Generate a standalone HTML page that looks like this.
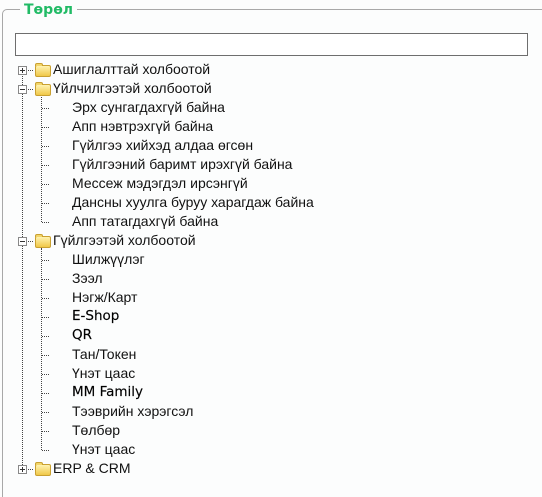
<!DOCTYPE html>
<html><head><meta charset="utf-8"><style>
html,body{margin:0;width:542px;height:497px;overflow:hidden}
body{background:#fcfdfd;position:relative;font-family:"Liberation Sans",Tahoma,sans-serif;font-size:14px;color:#111}
.wrap{position:absolute;left:0;top:0;width:542px;height:497px;overflow:hidden}
.fs{position:absolute;left:2px;top:9px;width:560px;height:500px;border:1px solid #a8a8a8;border-radius:5px}
.lg{position:absolute;left:20px;top:1px;padding:0 4px;background:#fcfdfd;color:#22bb66;font-weight:bold;font-size:14px;line-height:18px;font-family:"DejaVu Sans",sans-serif}
.inp{position:absolute;left:15px;top:33px;width:511px;height:21px;border:1px solid #6e6e6e;background:#fff}
.r{position:absolute;white-space:nowrap;line-height:19px;height:19px}
.v{position:absolute;border-left:1px dotted #444;width:0}
.h{position:absolute;border-top:1px dotted #444;height:0}
.pb{position:absolute;width:7px;height:7px;border:1px solid #888;background:#fff}
.pb:before{content:"";position:absolute;left:1px;top:3px;width:5px;height:1px;background:#333}
.pb.p:after{content:"";position:absolute;left:3px;top:1px;width:1px;height:5px;background:#333}
.fd{position:absolute;width:14px;height:10px;background:linear-gradient(#fff3b0,#f0c848);border:1px solid #c9a030;border-radius:2px}
.fd:before{content:"";position:absolute;left:-1px;top:-3px;width:6px;height:2px;background:#f3d66a;border:1px solid #c9a030;border-bottom:none;border-radius:2px 2px 0 0}
.b{font-family:"DejaVu Sans",sans-serif;font-size:13.5px;color:#000;-webkit-text-stroke:0.15px #000}
</style></head><body>
<div class="wrap">
<div class="fs"></div>
<div class="lg">Төрөл</div>
<div class="inp"></div>
<div class="v" style="left:22px;top:70px;height:399px"></div>
<div class="v" style="left:41px;top:95px;height:127px"></div>
<div class="v" style="left:41px;top:248px;height:202px"></div>
<div id="t"></div>
</div>
<script>
var rows=[[0,"Ашиглалттай холбоотой","p"],[0,"Үйлчилгээтэй холбоотой","m"],[1,"Эрх сунгагдахгүй байна"],[1,"Апп нэвтрэхгүй байна"],[1,"Гүйлгээ хийхэд алдаа өгсөн"],[1,"Гүйлгээний баримт ирэхгүй байна"],[1,"Мессеж мэдэгдэл ирсэнгүй"],[1,"Дансны хуулга буруу харагдаж байна"],[1,"Апп татагдахгүй байна"],[0,"Гүйлгээтэй холбоотой","m"],[1,"Шилжүүлэг"],[1,"Зээл"],[1,"Нэгж/Карт"],[1,"E-Shop",0,1],[1,"QR",0,1],[1,"Тан/Токен"],[1,"Үнэт цаас"],[1,"MM Family",0,1],[1,"Тээврийн хэрэгсэл"],[1,"Төлбөр"],[1,"Үнэт цаас"],[0,"ERP & CRM","p"]];
var h="";
rows.forEach(function(r,i){var c=70+19*i;
if(r[0]==0){h+='<div class="h" style="left:23px;top:'+c+'px;width:10px"></div>';
h+='<div class="pb '+(r[2]=="p"?"p":"")+'" style="left:18px;top:'+(c-4)+'px"></div>';
h+='<div class="fd" style="left:35px;top:'+(c-5)+'px"></div>';
h+='<div class="r" style="left:53px;top:'+(c-10)+'px">'+r[1].replace("&","&amp;")+'</div>';}
else{h+='<div class="h" style="left:42px;top:'+c+'px;width:7px"></div>';
h+='<div class="r'+(r[3]?' b':'')+'" style="left:72px;top:'+(c-10)+'px">'+r[1]+'</div>';}
});
document.getElementById("t").innerHTML=h;
</script>
</body></html>
